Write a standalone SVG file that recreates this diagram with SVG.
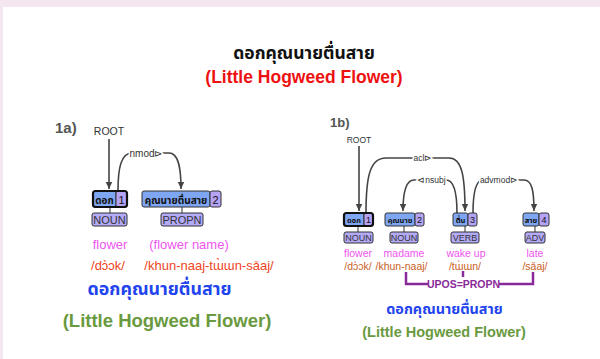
<svg xmlns="http://www.w3.org/2000/svg" width="600" height="359" viewBox="0 0 600 359">
<defs>
<marker id="ah" markerUnits="userSpaceOnUse" markerWidth="8" markerHeight="8" refX="7" refY="4" orient="auto">
<path d="M0,0.8 L7,4 L0,7.2 Z" fill="#444"/>
</marker>
<style>
.sans{font-family:"Liberation Sans","Noto Sans Thai","Noto Sans",sans-serif}
.thai{font-family:"Noto Sans Thai","Noto Sans","Liberation Sans","DejaVu Sans",sans-serif}
.arc{fill:none;stroke:#444;stroke-width:1.6}
.word{fill:#7ea6f2;stroke:#333;stroke-width:1}
.num{fill:#b5a3f6;stroke:#333;stroke-width:1}
.pos{fill:#b3aaf8;stroke:#333;stroke-width:1}
.head{fill:none;stroke:#111;stroke-width:2.2}
.lnk{stroke:#333;stroke-width:1}
.lab{fill:#333;text-anchor:middle}
.al{stroke:#fff;stroke-width:3;paint-order:stroke}
.mag{fill:#ee55ee;text-anchor:middle}
.mid{text-anchor:middle}
</style>
</defs>
<rect x="0" y="0" width="600" height="359" fill="#f3e6f0"/>
<rect x="3" y="7" width="597" height="352" fill="#ffffff"/>

<g id="title">
<text class="thai mid" x="304" y="59" font-size="17.5" font-weight="bold" fill="#111">ดอกคุณนายตื่นสาย</text>
<text class="sans mid" x="304" y="83" font-size="17.5" font-weight="bold" fill="#ee1111">(Little Hogweed Flower)</text>
</g>

<!-- 1a -->
<g id="panel-1a-label"><text class="sans" x="55" y="133" font-size="15" font-weight="bold" fill="#555">1a)</text></g>
<g id="a-root"><text class="sans lab" x="109" y="135" font-size="10.5">ROOT</text></g>
<g id="a-connectors">
<path class="arc" d="M109,139 L109,189" marker-end="url(#ah)"/>
<path class="arc" d="M118,191 C118,168 121,153 132,153 L169,153 C178,153 181,166 181,189" marker-end="url(#ah)"/>
<text class="sans lab al" x="146" y="156.5" font-size="10">nmod⊳</text>
<line class="lnk" x1="110" y1="207" x2="110" y2="213"/>
<line class="lnk" x1="182" y1="207" x2="182" y2="213"/>
</g>
<g id="a-node1">
<rect class="word" x="93" y="191" width="23" height="16" rx="2"/>
<rect class="num" x="116" y="191" width="11" height="16" rx="2"/>
<rect class="head" x="93" y="191" width="34" height="16" rx="2.5"/>
<text class="thai mid" x="104.5" y="203.5" font-size="10" font-weight="bold" fill="#111">ดอก</text>
<text class="sans mid" x="121.5" y="203.5" font-size="11" fill="#111">1</text>
</g>
<g id="a-node2">
<rect class="word" x="142" y="191" width="68" height="16" rx="2"/>
<rect class="num" x="210" y="191" width="11" height="16" rx="2"/>
<text class="thai mid" x="176" y="203.5" font-size="10" font-weight="bold" fill="#111">คุณนายตื่นสาย</text>
<text class="sans mid" x="215.5" y="203.5" font-size="11" fill="#111">2</text>
</g>
<g id="a-pos1"><rect class="pos" x="92" y="213" width="35" height="13" rx="2"/><text class="sans lab" x="109.5" y="223.5" font-size="11">NOUN</text></g>
<g id="a-pos2"><rect class="pos" x="161" y="213" width="42" height="13" rx="2"/><text class="sans lab" x="182" y="223.5" font-size="11">PROPN</text></g>
<g id="a-gloss">
<text class="sans mag" x="110" y="249" font-size="13">flower</text>
<text class="sans mag" x="189" y="249" font-size="13">(flower name)</text>
<text class="sans mid" x="108" y="270" font-size="13" fill="#ee4422">/dɔ̀ɔk/</text>
<text class="sans mid" x="209" y="270" font-size="13" fill="#ee4422">/khun-naaj-tɯ̀ɯn-sǎaj/</text>
<text class="thai mid" x="159.5" y="295" font-size="17.8" font-weight="bold" fill="#2244ee">ดอกคุณนายตื่นสาย</text>
<text class="sans mid" x="167" y="327" font-size="18.5" font-weight="bold" fill="#6a9a40">(Little Hogweed Flower)</text>
</g>

<!-- 1b -->
<g id="panel-1b-label"><text class="sans" x="330" y="127" font-size="13" font-weight="bold" fill="#555">1b)</text></g>
<g id="b-root"><text class="sans lab" x="359" y="143" font-size="8.5">ROOT</text></g>
<g id="b-connectors">
<path class="arc" d="M359,146 L359,211" marker-end="url(#ah)"/>
<path class="arc" d="M366,213 C366,176 370,158 386,158 L449,158 C462,158 465,176 465,211" marker-end="url(#ah)"/>
<text class="sans lab al" x="423" y="161" font-size="8.5">acl⊳</text>
<path class="arc" d="M457,213 C457,192 454,180 446,180 L414,180 C406,180 403,191 403,211" marker-end="url(#ah)"/>
<text class="sans lab al" x="431.5" y="183" font-size="8.5">⊲nsubj</text>
<path class="arc" d="M473,213 C473,192 476,180 483,180 L524,180 C532,180 534,191 534,211" marker-end="url(#ah)"/>
<text class="sans lab al" x="499" y="183" font-size="8.5">advmod⊳</text>
<line class="lnk" x1="358" y1="226" x2="358" y2="232"/>
<line class="lnk" x1="404" y1="226" x2="404" y2="232"/>
<line class="lnk" x1="465" y1="226" x2="465" y2="232"/>
<line class="lnk" x1="535" y1="226" x2="535" y2="232"/>
</g>
<g id="b-node1">
<rect class="word" x="344" y="213" width="20" height="13" rx="2"/>
<rect class="num" x="364" y="213" width="9" height="13" rx="2"/>
<rect class="head" x="344" y="213" width="29" height="13" rx="2.5"/>
<text class="thai mid" x="354" y="222.5" font-size="7.5" font-weight="bold" fill="#111">ดอก</text>
<text class="sans mid" x="368.5" y="223" font-size="9" fill="#111">1</text>
</g>
<g id="b-node2">
<rect class="word" x="385" y="213" width="30" height="13" rx="2"/>
<rect class="num" x="415" y="213" width="9" height="13" rx="2"/>
<text class="thai mid" x="400" y="222.5" font-size="7.5" font-weight="bold" fill="#111">คุณนาย</text>
<text class="sans mid" x="419.5" y="223" font-size="9" fill="#111">2</text>
</g>
<g id="b-node3">
<rect class="word" x="453" y="213" width="15" height="13" rx="2"/>
<rect class="num" x="468" y="213" width="9" height="13" rx="2"/>
<text class="thai mid" x="460.5" y="222.5" font-size="7.5" font-weight="bold" fill="#111">ตื่น</text>
<text class="sans mid" x="472.5" y="223" font-size="9" fill="#111">3</text>
</g>
<g id="b-node4">
<rect class="word" x="523" y="213" width="16" height="13" rx="2"/>
<rect class="num" x="539" y="213" width="10" height="13" rx="2"/>
<text class="thai mid" x="531" y="222.5" font-size="7.5" font-weight="bold" fill="#111">สาย</text>
<text class="sans mid" x="544" y="223" font-size="9" fill="#111">4</text>
</g>
<g id="b-pos1"><rect class="pos" x="344" y="232" width="29" height="11" rx="2"/><text class="sans lab" x="358.5" y="241" font-size="9">NOUN</text></g>
<g id="b-pos2"><rect class="pos" x="390" y="232" width="28" height="11" rx="2"/><text class="sans lab" x="404" y="241" font-size="9">NOUN</text></g>
<g id="b-pos3"><rect class="pos" x="451" y="232" width="28" height="11" rx="2"/><text class="sans lab" x="465" y="241" font-size="9">VERB</text></g>
<g id="b-pos4"><rect class="pos" x="525" y="232" width="20" height="11" rx="2"/><text class="sans lab" x="535" y="241" font-size="9">ADV</text></g>
<g id="b-gloss">
<text class="sans mag" x="358" y="257" font-size="10.5">flower</text>
<text class="sans mag" x="404" y="257" font-size="10.5">madame</text>
<text class="sans mag" x="466" y="257" font-size="10.5">wake up</text>
<text class="sans mag" x="535" y="257" font-size="10.5">late</text>
<text class="sans mid" x="358" y="269.5" font-size="10.5" fill="#c8601e">/dɔ̀ɔk/</text>
<text class="sans mid" x="401.5" y="269.5" font-size="10.5" fill="#c8601e">/khun-naaj/</text>
<text class="sans mid" x="465" y="269.5" font-size="10.5" fill="#c8601e">/tɯ̀ɯn/</text>
<text class="sans mid" x="535" y="269.5" font-size="10.5" fill="#c8601e">/sǎaj/</text>
</g>
<g id="b-upos">
<path d="M406,272 L406,284 L428,284 M499,284 L533,284 L533,272 M463,271 L463,277" fill="none" stroke="#8a2a9a" stroke-width="2.5"/>
<text class="sans mid" x="463.5" y="288" font-size="10.5" font-weight="bold" fill="#8a2a9a">UPOS=PROPN</text>
</g>
<g id="b-translation">
<text class="thai mid" x="444.5" y="314" font-size="14.4" font-weight="bold" fill="#2244ee">ดอกคุณนายตื่นสาย</text>
<text class="sans mid" x="444" y="337" font-size="14.5" font-weight="bold" fill="#6a9a40">(Little Hogweed Flower)</text>
</g>
</svg>
